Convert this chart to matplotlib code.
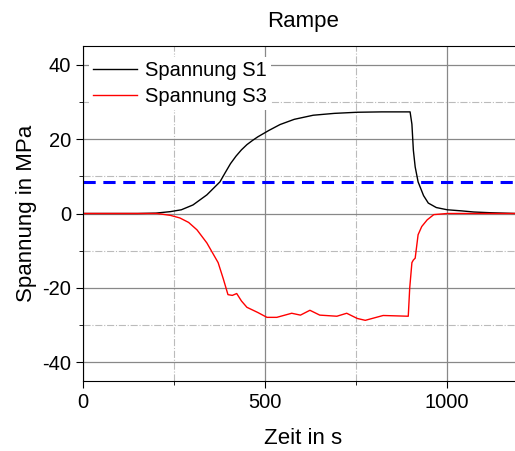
import matplotlib
matplotlib.use("Agg")
import matplotlib.pyplot as plt
from matplotlib.ticker import MultipleLocator

plt.rcParams['font.family'] = ['Liberation Sans', 'DejaVu Sans']
plt.rcParams['axes.unicode_minus'] = False

# Spannung S1 (Zug)
t_s1 = [0, 150, 200, 240, 270, 302, 340, 376, 390, 405, 420, 435, 450, 465,
        480, 510, 541, 580, 632, 690, 753, 820, 898, 903, 907, 912, 920, 935,
        948, 970, 1000, 1040, 1073, 1120, 1190]
s1 = [0, 0, 0.1, 0.5, 1.0, 2.3, 5.0, 8.5, 10.9, 13.4, 15.4, 17.1, 18.5, 19.6,
      20.6, 22.3, 23.9, 25.3, 26.4, 26.9, 27.2, 27.3, 27.3, 24.0, 17.0, 12.5,
      8.5, 4.8, 2.8, 1.6, 1.0, 0.7, 0.4, 0.2, 0.0]

# Spannung S3 (Druck)
t_s3 = [0, 150, 203, 240, 266, 290, 313, 340, 371, 385, 398, 410, 422, 435, 450,
        480, 505, 532, 573, 597, 623, 650, 697, 724, 753, 775, 824, 893, 897, 903,
        907, 912, 920, 930, 945, 963, 1000, 1100, 1190]
s3 = [0, 0, 0, -0.5, -1.2, -2.4, -4.4, -7.9, -13.2, -17.5, -21.8, -22.0, -21.5,
      -23.5, -25.2, -26.6, -27.9, -27.9, -26.8, -27.3, -26.0, -27.3, -27.6, -26.8,
      -28.2, -28.7, -27.4, -27.6, -20.0, -13.2, -12.5, -12.0, -5.7, -3.5, -1.7,
      -0.3, 0, 0, 0]

grenze = 8.5

fig = plt.figure(figsize=(5.15, 4.51), dpi=100)
ax = fig.add_axes([83 / 515, 70 / 451, 440 / 515, 335 / 451])

ax.plot(t_s1, s1, color='black', lw=1.0, label='Spannung S1')
ax.plot(t_s3, s3, color='red', lw=1.0, label='Spannung S3')
ax.axhline(grenze, color='blue', lw=2.2, ls=(0, (4, 2.5)))

ax.set_xlim(0, 1208)
ax.set_ylim(-45, 45)
ax.xaxis.set_major_locator(MultipleLocator(500))
ax.xaxis.set_minor_locator(MultipleLocator(250))
ax.yaxis.set_major_locator(MultipleLocator(20))
ax.yaxis.set_minor_locator(MultipleLocator(10))

ax.grid(which='major', color='#888888', lw=0.9, ls='-')
ax.grid(which='minor', color='#bbbbbb', lw=0.8, ls='-.')
ax.set_axisbelow(True)

ax.spines['right'].set_visible(False)
ax.tick_params(which='both', direction='out', top=False, right=False,
               labelsize=14.5, colors='black')
ax.tick_params(which='major', length=5)
ax.tick_params(which='minor', length=3)

ax.set_title('Rampe', fontsize=16, pad=14)
ax.set_xlabel('Zeit in s', fontsize=16, labelpad=12)
ax.set_ylabel('Spannung in MPa', fontsize=16, labelpad=4)

leg = ax.legend(loc='upper left', bbox_to_anchor=(0.0, 0.985), frameon=True,
                fontsize=14.5, handlelength=2.2, borderaxespad=0.3,
                borderpad=0.2, labelspacing=0.35, handletextpad=0.4,
                fancybox=False)
leg.get_frame().set_facecolor('white')
leg.get_frame().set_edgecolor('none')
leg.get_frame().set_alpha(1.0)

fig.savefig('out.png', dpi=100)
